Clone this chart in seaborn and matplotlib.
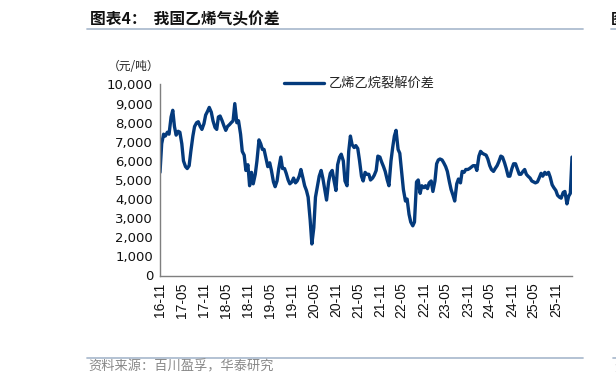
import pandas as pd
import seaborn as sns
import matplotlib.pyplot as plt
from matplotlib.lines import Line2D
from matplotlib.ticker import FuncFormatter

sns.set_style("white")
plt.rcParams['font.family'] = ['Noto Sans CJK SC', 'DejaVu Sans']

title = "图表4：  我国乙烯气头价差"
series_name = "乙烯乙烷裂解价差"
unit = "（元/吨）"
source = "资料来源：百川盈孚，华泰研究"

# half-monthly readings of the spread, 2016-11 to 2026-03 (yuan/ton)
start_date = "2016-11-01"
spread = [
    5400, 6900, 7400, 7300, 7500, 7400, 8300, 8650, 7800, 7350,
    7550, 7500, 6900, 6000, 5700, 5600, 5750, 6500, 7300, 7800,
    8000, 8050, 7800, 7650, 7950, 8400, 8600, 8800, 8550, 8100,
    7750, 7650, 8300, 8350, 8100, 7850, 7600, 7800, 7900, 8000,
    8100, 9000, 8000, 8100, 7400, 6500, 6300, 5500, 5800, 4700,
    5400, 4800, 5300, 6000, 7100, 6900, 6600, 6600, 6100, 5700,
    5900, 5500, 4900, 4650, 4950, 5600, 6200, 5600, 5600, 5350,
    5000, 4800, 4900, 5100, 4850, 4950, 5200, 5550, 5100, 4700,
    4450, 4100, 2900, 1650, 2500, 4100, 4700, 5200, 5500, 5100,
    4450, 3950, 4900, 5350, 5500, 5000, 4450, 5800, 6200, 6350,
    6000, 4950, 4700, 6500, 7300, 6850, 6700, 6800, 6650, 6050,
    5200, 4950, 5400, 5300, 5300, 5000, 5100, 5250, 5500, 6250,
    6200, 5950, 5700, 5450, 5000, 4700, 6000, 6700, 7300, 7600,
    6600, 6400, 5400, 4500, 3900, 4000, 3200, 2800, 2600, 2800,
    4900, 5000, 4300, 4700, 4600, 4700, 4550, 4850, 4950, 4400,
    4950, 5850, 6050, 6100, 6050, 5900, 5700, 5450, 4900, 4500,
    4200, 3900, 4800, 5050, 4850, 5450, 5400, 5550, 5550, 5600,
    5680, 5750, 5750, 5500, 6250, 6500, 6400, 6350, 6300, 6100,
    5750, 5550, 5450, 5600, 5750, 5950, 6250, 6200, 5900, 5600,
    5200, 5200, 5600, 5850, 5850, 5600, 5300, 5300, 5450, 5550,
    5300, 5200, 5100, 4950, 4900, 4850, 4900, 5100, 5350, 5200,
    5400, 5300, 5400, 5150, 4750, 4600, 4450, 4200, 4100, 4050,
    4350, 4400, 3750, 4150, 4300, 6200,
]
dates = pd.date_range(start_date, periods=len(spread), freq="SMS")
df = pd.DataFrame({"date": dates, "spread": spread})

tick_dates = pd.date_range("2016-11-01", "2025-11-01", freq="6MS")
tick_labels = [d.strftime("%y-%m") for d in tick_dates]

W, H = 616, 389
fig = plt.figure(figsize=(W / 100, H / 100), dpi=100)
ax = fig.add_axes([160 / W, 1 - 275.5 / H, (572 - 160) / W, (275.5 - 84.5) / H])

navy = "#043a7c"
sns.lineplot(data=df, x="date", y="spread", ax=ax, color=navy, linewidth=2.4)

ax.set_xlim(dates[0], dates[-1])
ax.set_ylim(0, 10000)
ax.set_yticks(range(0, 10001, 1000))
ax.yaxis.set_major_formatter(FuncFormatter(lambda v, p: f"{v:,.0f}"))
ax.set_xticks(tick_dates)
ax.set_xticklabels(tick_labels, rotation=90, family="Liberation Sans", fontsize=10)
for lab in ax.get_yticklabels():
    lab.set_family("DejaVu Sans")
    lab.set_fontsize(9.5)
ax.set_xlabel("")
ax.set_ylabel("")
ax.tick_params(axis="both", direction="out", length=3, width=0.8, color="#7f7f7f",
               labelcolor="#111111", pad=2)
for s in ["top", "right"]:
    ax.spines[s].set_visible(False)
for s in ["left", "bottom"]:
    ax.spines[s].set_color("#7f7f7f")
    ax.spines[s].set_linewidth(1.0)

# legend
handle = Line2D([], [], color=navy, linewidth=2.4)
fig.legend([handle], [series_name], loc="center left",
           bbox_to_anchor=(284 / W, 1 - 84 / H), frameon=False,
           borderpad=0, borderaxespad=0, handlelength=3.0, handletextpad=0.4,
           prop={"family": "Noto Sans CJK SC", "size": 9.5})

# unit label
fig.text(108 / W, 1 - 67 / H, unit, fontsize=8.5, color="#222222", va="center", ha="left")

# title and source
fig.text(90 / W, 1 - 19 / H, title, fontsize=11.3, fontweight="bold", color="#111111",
         va="center", ha="left")
fig.add_artist(Line2D([87 / W, 583 / W], [1 - 29.3 / H] * 2, color="#aebdd0", linewidth=1.3))
fig.text(611 / W, 1 - 19 / H, "图", fontsize=11, fontweight="bold", color="#111111",
         va="center", ha="left")
fig.add_artist(Line2D([611 / W, 1.0], [1 - 29.3 / H] * 2, color="#aebdd0", linewidth=1.3))

fig.add_artist(Line2D([87 / W, 583 / W], [1 - 358 / H] * 2, color="#aebdd0", linewidth=1.3))
fig.text(88 / W, 1 - 367 / H, source, fontsize=9.5, color="#888888", va="center", ha="left")
fig.add_artist(Line2D([613 / W, 1.0], [1 - 358 / H] * 2, color="#aebdd0", linewidth=1.3))
fig.text(614 / W, 1 - 367 / H, "资", fontsize=9.5, color="#888888", va="center", ha="left")

fig.savefig("out.png", dpi=100)
